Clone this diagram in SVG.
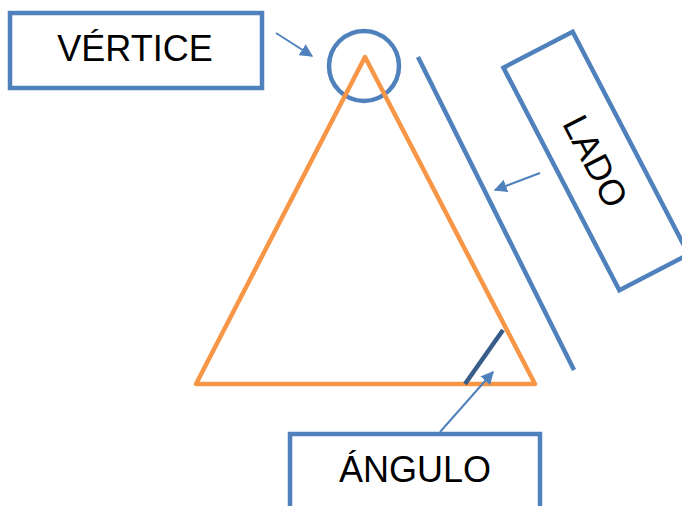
<svg xmlns="http://www.w3.org/2000/svg" width="682" height="506" viewBox="0 0 682 506">
<defs>
<style>
.box{fill:#fff;stroke:#4F81BD;stroke-width:4.5}
.lbl{font-family:"Liberation Sans",Arial,sans-serif;font-size:36px;fill:#000;text-anchor:middle}
.conn{stroke:#4F81BD;stroke-width:2;fill:none;marker-end:url(#ah)}
</style>
<marker id="ah" viewBox="0 0 10 10" refX="9" refY="5" markerWidth="6.5" markerHeight="6.5" orient="auto" markerUnits="strokeWidth">
<path d="M0,0 L10,5 L0,10 z" fill="#4F81BD"/>
</marker>
</defs>
<rect width="682" height="506" fill="#fff"/>
<g id="vertex-circle">
<circle cx="364" cy="66" r="35" fill="none" stroke="#4F81BD" stroke-width="4.5"/>
</g>
<g id="triangle">
<polygon points="365,57 196,384 535,384" fill="none" stroke="#F79646" stroke-width="4.5" stroke-linejoin="round"/>
</g>
<g id="side-line">
<line x1="418" y1="57" x2="574" y2="370" stroke="#4F81BD" stroke-width="4.5"/>
</g>
<g id="angle-mark">
<line x1="503" y1="330" x2="465" y2="384" stroke="#385D8A" stroke-width="4.5"/>
</g>
<g id="vertice">
<rect class="box" x="10" y="13" width="252" height="75"/>
<text class="lbl" x="135" y="61">VÉRTICE</text>
</g>
<g id="lado" transform="translate(596,161) rotate(62.5)">
<rect class="box" x="-125.5" y="-39" width="251" height="78"/>
<text class="lbl" x="0" y="13">LADO</text>
</g>
<g id="angulo">
<rect class="box" x="290" y="434" width="250" height="90"/>
<text class="lbl" x="415" y="482">ÁNGULO</text>
</g>
<g id="connectors">
<line class="conn" x1="276" y1="33" x2="312" y2="56"/>
<line class="conn" x1="540" y1="173" x2="495" y2="190"/>
<line class="conn" x1="440" y1="432" x2="493" y2="372"/>
</g>
</svg>
